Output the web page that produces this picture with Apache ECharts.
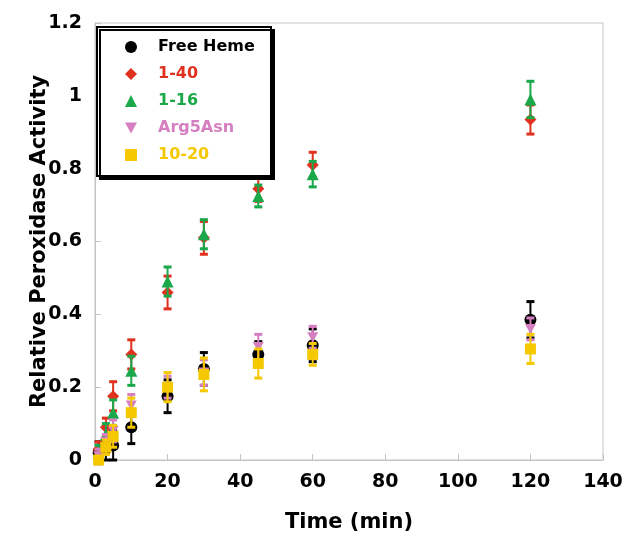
<!DOCTYPE html>
<html>
<head>
<meta charset="utf-8">
<script src="https://cdn.jsdelivr.net/npm/echarts@6/dist/echarts.min.js"></script>
<style>
html, body { margin: 0; padding: 0; background: #fff; }
#main { width: 626px; height: 535px; }
</style>
</head>
<body>
<div id="main"></div>
<script>
var times = [1, 3, 5, 10, 20, 30, 45, 60, 120];
var seriesNames = ['Free Heme', '1-40', '1-16', 'Arg5Asn', '10-20'];
var freeHeme = [0.02, 0.03, 0.04, 0.09, 0.175, 0.25, 0.29, 0.315, 0.385];
var freeHemeErr = [0.03, 0.03, 0.04, 0.045, 0.045, 0.045, 0.035, 0.045, 0.05];
var p140 = [0.03, 0.09, 0.175, 0.29, 0.46, 0.61, 0.745, 0.81, 0.935];
var p140Err = [0.02, 0.025, 0.04, 0.04, 0.045, 0.045, 0.035, 0.035, 0.04];
var p116 = [0.02, 0.07, 0.13, 0.245, 0.49, 0.62, 0.725, 0.785, 0.99];
var p116Err = [0.02, 0.03, 0.035, 0.04, 0.04, 0.04, 0.03, 0.035, 0.05];
var arg5Asn = [0.01, 0.05, 0.08, 0.15, 0.2, 0.24, 0.31, 0.337, 0.36];
var arg5AsnErr = [0.02, 0.02, 0.03, 0.03, 0.03, 0.035, 0.035, 0.03, 0.03];
var p1020 = [0.0, 0.035, 0.065, 0.13, 0.2, 0.235, 0.265, 0.29, 0.305];
var p1020Err = [0.01, 0.02, 0.03, 0.04, 0.04, 0.045, 0.04, 0.03, 0.04];
var yTicks = [0, 0.2, 0.4, 0.6, 0.8, 1, 1.2];
var xTicks = [0, 20, 40, 60, 80, 100, 120, 140];

var colors = ['#000000', '#e0301e', '#1aa84a', '#d67fc0', '#f5c800'];
var symbols = ['circle', 'diamond', 'triangle', 'path://M0,0 L10,0 L5,9 Z', 'rect'];
var values = [freeHeme, p140, p116, arg5Asn, p1020];
var errs = [freeHemeErr, p140Err, p116Err, arg5AsnErr, p1020Err];
var font = '"DejaVu Sans", sans-serif';

function errBar(color) {
    return function(params, api) {
        var top = api.coord([api.value(0), api.value(2)]);
        var bot = api.coord([api.value(0), api.value(1)]);
        var w = 4;
        var st = { stroke: color, lineWidth: 2 };
        var cap = { stroke: color, lineWidth: 3 };
        return {
            type: 'group',
            children: [
                { type: 'line', shape: { x1: top[0], y1: top[1], x2: bot[0], y2: bot[1] }, style: st },
                { type: 'line', shape: { x1: top[0] - w, y1: top[1], x2: top[0] + w, y2: top[1] }, style: cap },
                { type: 'line', shape: { x1: bot[0] - w, y1: bot[1], x2: bot[0] + w, y2: bot[1] }, style: cap }
            ]
        };
    };
}

var series = [];
for (var i = 0; i < seriesNames.length; i++) {
    var barData = [], ptData = [];
    for (var j = 0; j < times.length; j++) {
        barData.push([times[j], values[i][j] - errs[i][j], values[i][j] + errs[i][j]]);
        ptData.push([times[j], values[i][j]]);
    }
    series.push({
        name: seriesNames[i] + ' err',
        type: 'custom',
        renderItem: errBar(colors[i]),
        data: barData,
        z: 2 + i * 2,
        silent: true
    });
    series.push({
        name: seriesNames[i],
        type: 'scatter',
        symbol: symbols[i],
        symbolSize: i === 3 ? [11, 10] : (i === 4 ? 11 : 12),
        itemStyle: { color: colors[i], opacity: 1 },
        data: ptData,
        z: 3 + i * 2
    });
}

var chart = echarts.init(document.getElementById('main'));
chart.setOption({
    animation: false,
    grid: { left: 95, right: 23, top: 23, bottom: 75, outerBoundsMode: 'none', show: true, borderColor: '#c9c2c2', borderWidth: 1 },
    xAxis: {
        type: 'value', min: 0, max: 140, interval: 20,
        name: 'Time (min)', nameLocation: 'middle', nameGap: 52, nameMoveOverlap: false,
        nameTextStyle: { fontFamily: font, fontWeight: 'bold', fontSize: 21, color: '#000' },
        axisLine: { lineStyle: { color: '#c9c2c2' } },
        axisTick: { inside: true, length: 6, lineStyle: { color: '#c9c2c2' } },
        splitLine: { show: false },
        axisLabel: { fontFamily: font, fontWeight: 'bold', fontSize: 19, color: '#000', margin: 13 }
    },
    yAxis: {
        type: 'value', min: 0, max: 1.2, interval: 0.2,
        name: 'Relative Peroxidase Activity', nameLocation: 'middle', nameGap: 45, nameMoveOverlap: false,
        nameTextStyle: { fontFamily: font, fontWeight: 'bold', fontSize: 21, color: '#000' },
        axisLine: { show: true, lineStyle: { color: '#c9c2c2' } },
        axisTick: { show: true, inside: true, length: 6, lineStyle: { color: '#c9c2c2' } },
        splitLine: { show: false },
        axisLabel: { fontFamily: font, fontWeight: 'bold', fontSize: 19, color: '#000', margin: 13 }
    },
    graphic: [{
        type: 'rect', left: 96, top: 26, z: 50,
        shape: { width: 174, height: 149 },
        style: { fill: '#fff', stroke: '#000', lineWidth: 2, shadowColor: '#000', shadowOffsetX: 3, shadowOffsetY: 3, shadowBlur: 0 }
    }],
    legend: {
        orient: 'vertical', left: 120, top: 34, z: 60,
        itemWidth: 12, itemHeight: 12, itemGap: 11,
        data: seriesNames.map(function(n, k) {
            return { name: n, textStyle: { color: colors[k] } };
        }),
        textStyle: { fontFamily: font, fontWeight: 'bold', fontSize: 16, padding: [0, 0, 0, 16] }
    },
    series: series
});
</script>
</body>
</html>
